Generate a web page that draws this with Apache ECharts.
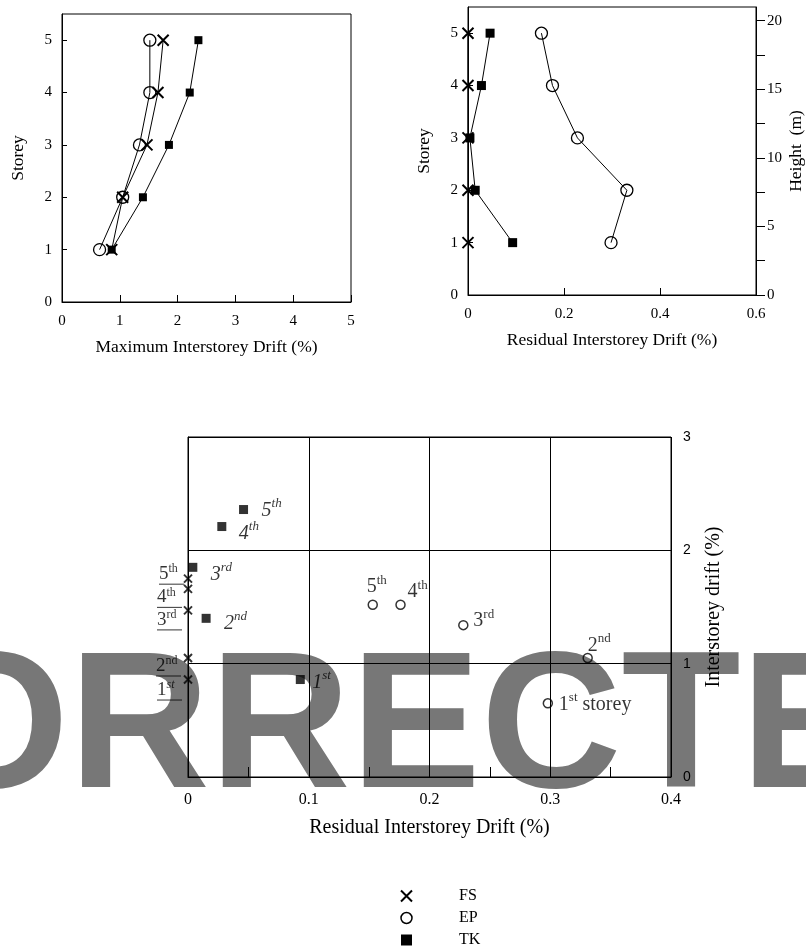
<!DOCTYPE html>
<html>
<head>
<meta charset="utf-8">
<script src="https://cdn.jsdelivr.net/npm/echarts@6/dist/echarts.min.js"></script>
<style>
html,body{margin:0;padding:0;background:#fff;}
#chart{width:806px;height:949px;}
</style>
</head>
<body>
<div id="chart"></div>
<script>
// ---------------- data ----------------
const storeys = [1, 2, 3, 4, 5];
const ordinalSuffix = ['st', 'nd', 'rd', 'th', 'th'];
const seriesNames = ['FS', 'EP', 'TK'];

// Maximum interstorey drift (%) per storey 1..5
const maxDriftFS = [0.86, 1.05, 1.47, 1.66, 1.75];
const maxDriftEP = [0.65, 1.05, 1.34, 1.52, 1.52];
const maxDriftTK = [0.86, 1.40, 1.85, 2.21, 2.36];

// Residual interstorey drift (%) per storey 1..5
const resDriftFS = [0, 0, 0, 0, 0];
const resDriftEP = [0.298, 0.331, 0.228, 0.176, 0.153];
const resDriftTK = [0.093, 0.015, 0.004, 0.028, 0.046];

// tick labels
const storeyTicks = [0, 1, 2, 3, 4, 5];
const maxDriftTicks = [0, 1, 2, 3, 4, 5];
const resTopTicks = [0, 0.2, 0.4, 0.6];
const heightTicks = [0, 5, 10, 15, 20];
const heightTickMarks = [0, 2.5, 5, 7.5, 10, 12.5, 15, 17.5, 20];
const watermarkText = 'CORRECTED';

// ---------------- styles ----------------
const SERIF = '"Liberation Serif", "Times New Roman", serif';
const SANS = '"Liberation Sans", Arial, sans-serif';
const X_PATH = 'path://M0,0L10,10M10,0L0,10';
const BLACK = '#000';

// label placement (style only): [dx, dy] from marker centre
const tkLabelOffsets = [[12, 3], [18, 5], [18, 7], [17, 7], [18, 1]];
const epLabelOffsets = [[11, 1], [0, -12.5], [10, -4], [7, -13], [-6, -18]];
const fsLabelOffsets = [[-31, 2], [-32, -0.5], [-31, 1], [-31, 0], [-29, -13]];

const rich = {
  n: {fontFamily: SERIF, fontSize: 20, lineHeight: 22, color: BLACK},
  s: {fontFamily: SERIF, fontSize: 13, height: 9, verticalAlign: 'top', color: BLACK},
  w: {fontFamily: SERIF, fontSize: 20, lineHeight: 22, color: BLACK},
  ni: {fontFamily: SERIF, fontSize: 20, lineHeight: 22, fontStyle: 'italic', color: BLACK},
  si: {fontFamily: SERIF, fontSize: 13, height: 9, verticalAlign: 'top', fontStyle: 'italic', color: BLACK},
  fn: {fontFamily: SERIF, fontSize: 19, lineHeight: 17, color: BLACK},
  fs: {fontFamily: SERIF, fontSize: 12, height: 7, verticalAlign: 'top', color: BLACK},
  fsi: {fontFamily: SERIF, fontSize: 12, height: 7, verticalAlign: 'top', fontStyle: 'italic', color: BLACK},
  u: {width: 25, height: 1, lineHeight: 3, fontSize: 1, backgroundColor: BLACK}
};

function axisCommon() {
  return {
    axisLine: {show: true, lineStyle: {color: BLACK, width: 1}},
    splitLine: {show: false},
    axisLabel: {color: BLACK, fontFamily: SERIF, fontSize: 15},
    nameTextStyle: {color: BLACK, fontFamily: SERIF, fontSize: 17.5},
    nameLocation: 'middle'
  };
}

const epStyle = {color: 'transparent', borderColor: BLACK, borderWidth: 1.3};
const fsStyle = {color: BLACK, borderColor: BLACK, borderWidth: 2};
const tkStyle = {color: BLACK, borderWidth: 0};

function lineSeries(name, xs, xi, yi, symbol, size, style) {
  return {
    type: 'line', name: name, xAxisIndex: xi, yAxisIndex: yi,
    data: storeys.map((s, i) => [xs[i], s]),
    symbol: symbol, symbolSize: size, showSymbol: true,
    itemStyle: style,
    lineStyle: {color: BLACK, width: 1},
    silent: true
  };
}

// bottom scatter
const tkData = storeys.map((s, i) => ({
  value: [resDriftTK[i], maxDriftTK[i]],
  label: {
    show: true, position: 'inside', align: 'left', verticalAlign: 'middle',
    offset: tkLabelOffsets[i],
    formatter: '{ni|' + s + '}{si|' + ordinalSuffix[i] + '}'
  }
}));
const epData = storeys.map((s, i) => ({
  value: [resDriftEP[i], maxDriftEP[i]],
  label: {
    show: true, position: 'inside', align: 'left', verticalAlign: 'middle',
    offset: epLabelOffsets[i],
    formatter: '{n|' + s + '}{s|' + ordinalSuffix[i] + '}' + (i === 0 ? '{w| storey}' : '')
  }
}));
const fsData = storeys.map((s, i) => ({
  value: [resDriftFS[i], maxDriftFS[i]],
  label: {
    show: true, position: 'inside', align: 'left', verticalAlign: 'top',
    offset: fsLabelOffsets[i],
    formatter: '{fn|' + s + '}{' + (i === 0 ? 'fsi' : 'fs') + '|' + ordinalSuffix[i] + '}\n{u| }'
  }
}));

const option = {
  animation: false,
  backgroundColor: '#fff',
  textStyle: {fontFamily: SERIF},
  graphic: [{
    type: 'text', z: -10, zlevel: -1, silent: true,
    style: {
      text: watermarkText, x: 394, y: 733,
      align: 'center', verticalAlign: 'middle',
      textAlign: 'center', textVerticalAlign: 'middle',
      font: 'bold 195px "Liberation Sans", Arial, sans-serif',
      fontFamily: SANS, fontWeight: 'bold', fontSize: 195,
      fill: '#777777'
    }
  }],
  grid: [
    {left: 62, top: 14, width: 289, height: 288, show: true, borderColor: BLACK, borderWidth: 1, backgroundColor: 'transparent'},
    {left: 468, top: 7, width: 289, height: 288, show: true, borderColor: BLACK, borderWidth: 1, backgroundColor: 'transparent'},
    {left: 188, top: 437, width: 483, height: 340, show: true, borderColor: BLACK, borderWidth: 1, backgroundColor: 'transparent'}
  ],
  xAxis: [
    Object.assign(axisCommon(), {
      gridIndex: 0, type: 'value', min: 0, max: 5, interval: 1,
      axisTick: {inside: true, length: 7, lineStyle: {color: BLACK}},
      axisLabel: {color: BLACK, fontFamily: SERIF, fontSize: 15, margin: 12, customValues: maxDriftTicks},
      name: 'Maximum Interstorey Drift (%)', nameGap: 36
    }),
    Object.assign(axisCommon(), {
      gridIndex: 1, type: 'value', min: 0, max: 0.6, interval: 0.2,
      axisTick: {inside: true, length: 7, lineStyle: {color: BLACK}},
      axisLabel: {color: BLACK, fontFamily: SERIF, fontSize: 15, margin: 12, customValues: resTopTicks},
      name: 'Residual Interstorey Drift (%)', nameGap: 36
    }),
    Object.assign(axisCommon(), {
      gridIndex: 2, type: 'value', min: 0, max: 0.4, interval: 0.1,
      axisTick: {inside: true, length: 10, lineStyle: {color: BLACK}},
      minorTick: {show: true, splitNumber: 2, length: 10, lineStyle: {color: BLACK, width: 1}},
      splitLine: {show: true, lineStyle: {color: BLACK, width: 1}},
      axisLabel: {color: BLACK, fontFamily: SERIF, fontSize: 16, margin: 15},
      name: 'Residual Interstorey Drift (%)', nameGap: 41,
      nameTextStyle: {color: BLACK, fontFamily: SERIF, fontSize: 20}
    })
  ],
  yAxis: [
    Object.assign(axisCommon(), {
      gridIndex: 0, type: 'value', min: 0, max: 5.5, interval: 1,
      axisTick: {inside: true, length: 5, lineStyle: {color: BLACK}, customValues: storeyTicks},
      axisLabel: {color: BLACK, fontFamily: SERIF, fontSize: 15, margin: 10, customValues: storeyTicks},
      name: 'Storey', nameGap: 35
    }),
    Object.assign(axisCommon(), {
      gridIndex: 1, type: 'value', min: 0, max: 5.5, interval: 1,
      axisTick: {inside: true, length: 5, lineStyle: {color: BLACK}, customValues: storeyTicks},
      axisLabel: {color: BLACK, fontFamily: SERIF, fontSize: 15, margin: 10, customValues: storeyTicks},
      name: 'Storey', nameGap: 35
    }),
    Object.assign(axisCommon(), {
      gridIndex: 1, type: 'value', position: 'right', min: 0, max: 21, interval: 5,
      axisTick: {inside: false, length: 9, lineStyle: {color: BLACK}, customValues: heightTickMarks},
      axisLabel: {color: BLACK, fontFamily: SERIF, fontSize: 15, margin: 11, customValues: heightTicks},
      name: 'Height  (m)', nameGap: 31
    }),
    Object.assign(axisCommon(), {
      gridIndex: 2, type: 'value', position: 'right', min: 0, max: 3, interval: 1,
      axisTick: {show: false},
      splitLine: {show: true, lineStyle: {color: BLACK, width: 1}},
      axisLabel: {color: BLACK, fontFamily: SANS, fontSize: 14, margin: 12},
      name: 'Interstorey drift (%)', nameGap: 33,
      nameTextStyle: {color: BLACK, fontFamily: SERIF, fontSize: 20}
    })
  ],
  legend: {
    orient: 'vertical', left: 400, bottom: 1, padding: 0,
    itemWidth: 11, itemHeight: 11, itemGap: 6,
    selectedMode: false,
    data: [
      {name: seriesNames[0], icon: X_PATH, itemStyle: {borderWidth: 2}},
      {name: seriesNames[1], icon: 'circle', itemStyle: {borderWidth: 1.5}},
      {name: seriesNames[2], icon: 'rect'}
    ],
    formatter: (name) => '{g| }{t|' + name + '}',
    textStyle: {
      color: BLACK, fontFamily: SERIF, fontSize: 16, lineHeight: 14,
      rich: {
        g: {width: 42, lineHeight: 14, fontSize: 12},
        t: {fontFamily: SERIF, fontSize: 16, lineHeight: 14, color: BLACK}
      }
    }
  },
  series: [
    lineSeries(seriesNames[1], maxDriftEP, 0, 0, 'circle', 12, epStyle),
    lineSeries(seriesNames[0], maxDriftFS, 0, 0, X_PATH, 11, fsStyle),
    lineSeries(seriesNames[2], maxDriftTK, 0, 0, 'rect', 8, tkStyle),
    lineSeries(seriesNames[1], resDriftEP, 1, 1, 'circle', 12, epStyle),
    lineSeries(seriesNames[0], resDriftFS, 1, 1, X_PATH, 11, fsStyle),
    lineSeries(seriesNames[2], resDriftTK, 1, 1, 'rect', 9, tkStyle),
    {
      type: 'scatter', name: seriesNames[1], xAxisIndex: 2, yAxisIndex: 3,
      data: epData, symbol: 'circle', symbolSize: 9,
      itemStyle: {color: 'transparent', borderColor: BLACK, borderWidth: 1.5},
      label: {rich: rich}, silent: true
    },
    {
      type: 'scatter', name: seriesNames[0], xAxisIndex: 2, yAxisIndex: 3,
      data: fsData, symbol: X_PATH, symbolSize: 8,
      itemStyle: {color: BLACK, borderColor: BLACK, borderWidth: 2},
      label: {rich: rich}, silent: true
    },
    {
      type: 'scatter', name: seriesNames[2], xAxisIndex: 2, yAxisIndex: 3,
      data: tkData, symbol: 'rect', symbolSize: 9,
      itemStyle: {color: BLACK},
      label: {rich: rich}, silent: true
    }
  ]
};

const chart = echarts.init(document.getElementById('chart'), null, {renderer: 'canvas'});
chart.setOption(option);
</script>
</body>
</html>
